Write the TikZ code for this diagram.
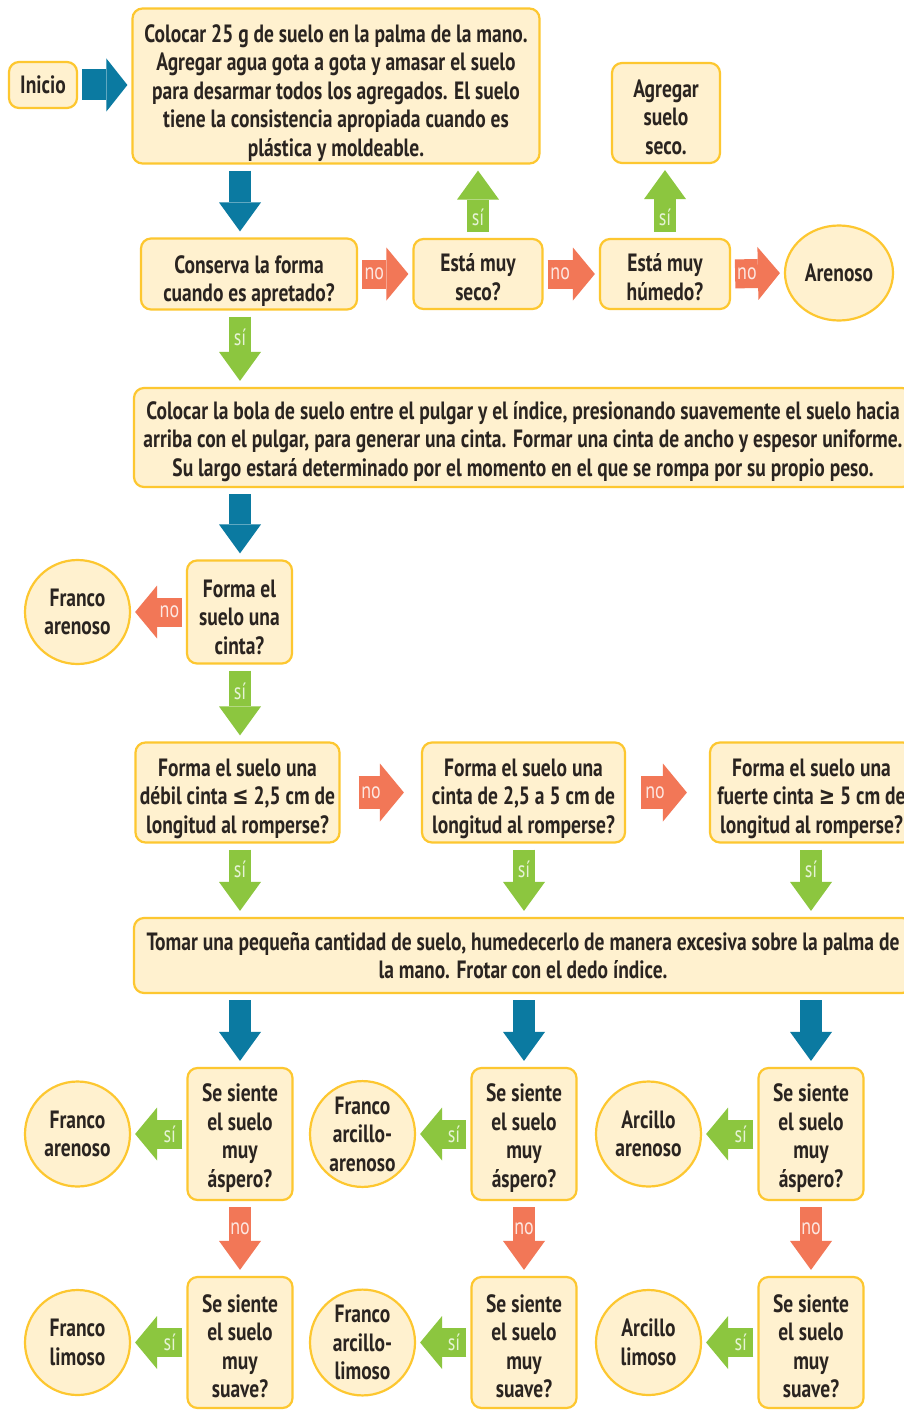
\documentclass[tikz,border=0pt]{standalone}
\usepackage{fontspec}
\usetikzlibrary{arrows.meta,shapes.geometric,calc}
\newfontfamily\mf{PT Sans}[FakeStretch=0.78]
\newfontfamily\symf{DejaVu Sans}[FakeStretch=0.78]
\newcommand\tp[1]{\rule{0pt}{#1pt}}
\definecolor{boxfill}{HTML}{FFF1CF}
\definecolor{boxline}{HTML}{FDC730}
\definecolor{txt}{HTML}{2A2420}
\definecolor{arrblue}{HTML}{0B7AA1}
\definecolor{arrred}{HTML}{F27757}
\definecolor{arrgreen}{HTML}{8CC63F}
\tikzset{
  mainfont/.style={font=\mf\bfseries\fontsize{25}{28.5}\selectfont},
  box/.style={draw=boxline, fill=boxfill, line width=2.2pt, rounded corners=10pt,
    align=center, inner sep=0pt, text=txt, mainfont},
  circ/.style={ellipse, draw=boxline, fill=boxfill, line width=2.2pt,
    align=center, inner sep=0pt, text=txt, mainfont},
  varr/.style={line width=22pt, -{Triangle[length=29pt,width=42pt,line width'=0pt]},
    shorten <=6pt, shorten >=6pt},
  harr/.style={line width=29pt, -{Triangle[length=22pt,width=53pt,line width'=0pt]},
    shorten <=4pt, shorten >=4pt},
  lab/.style={font=\mf\fontsize{23}{23}\selectfont, inner sep=0pt},
  nolab/.style={lab, text=white!82!arrred},
  silab/.style={lab, text=white!78!arrgreen},
}
\begin{document}
\begin{tikzpicture}[x=1pt,y=-1pt]
\useasboundingbox (0,0) rectangle (904,1410);
\fill[white] (0,0) rectangle (904,1410);
\clip (0,0) rectangle (904,1410);

\coordinate (c1) at (240,0);
\coordinate (c2) at (524,0);
\coordinate (c3) at (811,0);

% top
\node[box, minimum width=68pt, minimum height=46pt] (inicio) at (43,85) {Inicio};
\node[box, minimum width=407pt, minimum height=155pt] (b1) at (336,86)
 {\tp{32}Colocar 25 g de suelo en la palma de la mano.\\Agregar agua gota a gota y amasar el suelo\\para desarmar todos los agregados. El suelo\\tiene la consistencia apropiada cuando es\\plástica y moldeable.};
\node[box, minimum width=108pt, minimum height=100pt] (agr) at (666,113) {\tp{26}Agregar\\suelo\\seco.};
\node[box, minimum width=216pt, minimum height=71pt] (q1) at (249,274) {\tp{32}Conserva la forma\\cuando es apretado?};
\node[box, minimum width=129pt, minimum height=70pt] (seco) at (478,274) {\tp{24}Está muy\\seco?};
\node[box, minimum width=130pt, minimum height=70pt] (hum) at (665,274) {\tp{24}Está muy\\húmedo?};
\node[circ, minimum width=108pt, minimum height=95pt] (aren) at (839,273) {Arenoso};

\node[box, minimum width=778pt, minimum height=99pt] (b2) at (523,437.5)
 {\tp{26}Colocar la bola de suelo entre el pulgar y el índice, presionando suavemente el suelo hacia\\arriba con el pulgar, para generar una cinta. Formar una cinta de ancho y espesor uniforme.\\Su largo estará determinado por el momento en el que se rompa por su propio peso.};

\node[box, minimum width=105pt, minimum height=103pt] (cin) at (239.5,612) {\tp{28}Forma el\\suelo una\\cinta?};
\node[circ, minimum width=105pt, minimum height=104pt] (fa1) at (77.5,612) {Franco\\arenoso};

\node[box, minimum width=204pt, minimum height=100pt] (ra) at (237.5,792.5) {\tp{30}Forma el suelo una\\débil cinta {\symf ≤} 2,5 cm de\\longitud al romperse?};
\node[box, minimum width=203pt, minimum height=100pt] (rb) at (523.5,792.5) {\tp{30}Forma el suelo una\\cinta de 2,5 a 5 cm de\\longitud al romperse?};
\node[box, minimum width=203pt, minimum height=100pt] (rc) at (811.5,792.5) {\tp{30}Forma el suelo una\\fuerte cinta {\symf ≥} 5 cm de\\longitud al romperse?};

\node[box, minimum width=778pt, minimum height=75pt] (b3) at (523,955.5)
 {Tomar una pequeña cantidad de suelo, humedecerlo de manera excesiva sobre la palma de\\la mano. Frotar con el dedo índice.};

% bottom rows
\foreach \i/\x in {1/240,2/524,3/811}{
  \node[box, minimum width=105pt, minimum height=132pt] (as\i) at (\x,1134) {\tp{25.5}Se siente\\el suelo\\muy\\áspero?};
  \node[box, minimum width=105pt, minimum height=131pt] (su\i) at (\x,1342.5) {\tp{25}Se siente\\el suelo\\muy\\suave?};
}
\node[circ, minimum width=105pt, minimum height=105pt] (fa2) at (77.5,1134) {Franco\\arenoso};
\node[circ, minimum width=105pt, minimum height=105pt] (faa) at (362.5,1134) {Franco\\arcillo-\\arenoso};
\node[circ, minimum width=105pt, minimum height=105pt] (aa) at (648.5,1134) {Arcillo\\arenoso};
\node[circ, minimum width=105pt, minimum height=105pt] (fl) at (77.5,1342.5) {Franco\\limoso};
\node[circ, minimum width=105pt, minimum height=105pt] (fal) at (362.5,1342.5) {Franco\\arcillo-\\limoso};
\node[circ, minimum width=105pt, minimum height=105pt] (al) at (648.5,1342.5) {Arcillo\\limoso};

% arrows
\draw[harr, arrblue, line width=31pt, -{Triangle[length=21pt,width=53pt,line width'=0pt]}] (inicio.east) -- (b1.west |- inicio.east);
\draw[varr, arrblue] (c1 |- b1.south) -- (c1 |- q1.north);
\draw[harr, arrred] (q1.east) -- node[nolab, pos=0.3]{no} (seco.west);
\draw[harr, arrred] (seco.east) -- node[nolab, pos=0.3]{no} (hum.west);
\draw[harr, arrred] (hum.east) -- node[nolab, pos=0.3]{no} (aren.west);
\draw[varr, arrgreen] (seco.north) -- node[silab, pos=0.28]{sí} (seco.north |- b1.south);
\draw[varr, arrgreen] (hum.north) -- node[silab, pos=0.28]{sí} (hum.north |- agr.south);
\draw[varr, arrgreen] (c1 |- q1.south) -- node[silab, pos=0.35]{sí} (c1 |- b2.north);
\draw[varr, arrblue] (c1 |- b2.south) -- (c1 |- cin.north);
\draw[harr, arrred] (cin.west) -- node[nolab, pos=0.3]{no} (fa1.east);
\draw[varr, arrgreen] (c1 |- cin.south) -- node[silab, pos=0.35]{sí} (c1 |- ra.north);
\draw[harr, arrred, line width=33pt, -{Triangle[length=24pt,width=58pt,line width'=0pt]}, shorten <=18pt, shorten >=17pt] (ra.east) -- node[nolab, pos=0.38]{no} (rb.west);
\draw[harr, arrred, line width=33pt, -{Triangle[length=24pt,width=58pt,line width'=0pt]}, shorten <=15pt, shorten >=22pt] (rb.east) -- node[nolab, pos=0.35]{no} (rc.west);
\foreach \c/\r in {c1/ra,c2/rb,c3/rc}{
  \draw[varr, arrgreen] (\c |- \r.south) -- node[silab, pos=0.35]{sí} (\c |- b3.north);
}
\foreach \i in {1,2,3}{
  \draw[varr, arrblue] (c\i |- b3.south) -- (c\i |- as\i.north);
  \draw[varr, arrred] (as\i.south) -- node[nolab, pos=0.37]{no} (su\i.north);
}
\foreach \a/\b in {as1/fa2,as2/faa,as3/aa,su1/fl,su2/fal,su3/al}{
  \draw[harr, arrgreen] (\a.west) -- node[silab, pos=0.3]{sí} (\b.east);
}
\end{tikzpicture}
\end{document}
